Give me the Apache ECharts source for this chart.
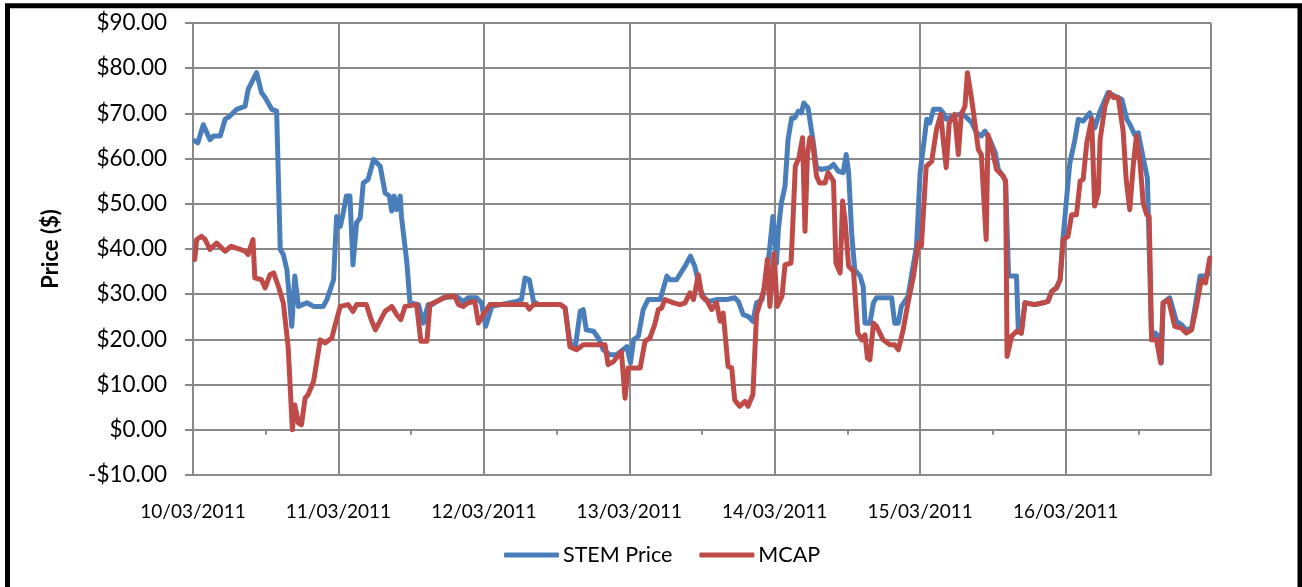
<!DOCTYPE html>
<html>
<head>
<meta charset="utf-8">
<script src="https://cdn.jsdelivr.net/npm/echarts@6/dist/echarts.min.js"></script>
<style>
html,body{margin:0;padding:0;background:#fff;}
#chart{width:1302px;height:587px;}
</style>
</head>
<body>
<div id="chart"></div>
<script>
// ---- data (hours since 10/03/2011 00:00, price in $) ----
const dateLabels = ['10/03/2011','11/03/2011','12/03/2011','13/03/2011','14/03/2011','15/03/2011','16/03/2011'];
const yTicks = [-10,0,10,20,30,40,50,60,70,80,90];

const stemHours = [0.3,0.8,1.7,2.8,3.4,4.5,5.3,6.1,7.2,8.6,9.1,10.5,11.3,11.9,13,13.8,14.4,14.9,15.5,16.3,16.8,17.4,18.8,19.9,21.5,22.1,23.2,23.7,24.3,24.8,25.3,25.9,26.4,27,27.6,28.1,28.9,29.8,30.9,31.7,32.4,32.8,33.2,33.6,34.2,34.4,35.3,35.8,37.2,38,38.8,39.5,40.2,41.3,43.5,44.6,45.4,46.8,47.6,48.3,49.3,53.4,54.2,54.8,55.5,56.2,57,60.6,61.4,62.2,63.1,63.9,64.4,64.9,66.1,66.9,67.7,68.8,69.9,71.6,72.2,72.7,73.5,74.3,75.1,77.1,78.2,78.7,79.8,81.2,82.1,82.8,83.7,84.5,85.3,86.4,88,89.4,90,90.8,91.6,92.4,93,93.9,94.7,95.2,95.7,96.1,96.3,96.6,97.1,97.7,98.2,98.8,99.3,99.9,100.4,100.8,101.5,102.3,102.9,103.7,105.1,105.7,106.5,107.3,107.8,108.2,108.7,109.2,110.1,110.6,110.9,111.7,112.3,112.8,115.3,115.8,116.4,116.9,118,119.4,120,121.1,121.6,122.2,123.3,123.8,124.3,125.7,127,128.5,129.3,130.1,130.7,131.5,132.4,132.9,133.7,134.1,134.6,135.9,136.2,136.7,137.3,138.9,140.3,141.1,141.7,142.5,143.1,143.6,144.7,145.5,146.1,146.9,148,148.8,149.7,151,152.2,153.3,154.1,154.6,155.4,156,156.8,157.5,157.8,158.2,158.8,159.3,159.8,160.1,161.2,162.3,163.1,163.9,164.8,166.2,167,167.6];
const stemPrice = [63.9,63.5,67.5,64.2,65,65,68.7,69.4,70.9,71.6,75.3,79,74.6,73.5,70.9,70.5,39.9,38.8,35.4,22.9,34,27.3,28.1,27.3,27.3,28.8,33.2,47.2,45,48,51.7,51.7,36.5,45.8,46.9,54.6,55.4,59.8,58.3,52.4,51.7,48.4,51.7,48.7,51.7,47.2,36.9,28.1,27.7,23.6,27.7,27.7,28.4,29.2,29.5,28.4,29.2,29.2,28.1,22.9,27.3,28.4,28.8,33.6,33.2,28.4,27.7,27.7,27,19.2,18.4,26.2,26.6,22.1,21.8,20.3,17.7,16.6,16.6,18.4,14.8,19.9,20.7,26.6,28.8,28.8,34,33.2,33.2,36.2,38.4,36.2,31,28.8,28.4,28.8,28.8,29.2,28.4,25.5,25.1,24,28.1,28.8,34,40.6,47.2,40.6,36.9,44.3,50.2,53.9,64.2,69,69,70.5,70.1,72.3,71.2,64.2,58,57.6,58,58.7,57.2,56.9,60.9,56.9,43.6,35.4,34,31.7,23.6,23.6,28.1,29.2,29.2,23.6,23.6,27.3,29.5,40.6,56.9,68.7,67.9,70.9,70.9,70.1,68.7,69.5,70,68,65.7,65,66.1,64.2,61.3,57.6,56.1,55,34,34,22.1,21.4,28.1,27.7,28.1,28.4,30.6,31.4,33.2,42.8,59,63.9,68.7,68.3,70.1,66.8,70.5,74.6,73.8,73.1,68.7,67.6,65.3,65.7,60.2,55.7,56.1,19.9,21.4,20.7,14.8,28.1,29.2,24,23.3,22.1,22.5,34,34,34.5];

const mcapHours = [0.3,0.6,1.4,2,2.8,3.9,5.3,6.3,7.8,8.6,9.1,9.9,10.2,11.3,11.9,12.7,13.3,14.1,14.9,15.7,16.4,16.8,17.4,17.9,18.5,19,19.9,21,21.8,22.9,23.4,24.3,25.6,26.4,27,28.6,29.4,30.1,31.7,32.8,33.6,34.3,35,36.9,37.6,38.6,39.1,40.2,41.9,43.2,43.8,44.6,45.4,46.5,47.1,47.9,49,55,55.5,56.2,60.6,61.4,62.2,63.3,64.4,68,68.5,69.4,70.7,71.3,71.8,73.8,74.6,75.4,76.2,76.8,77.3,77.9,79.3,80.4,81.2,82,82.6,83.4,84,84.7,85.6,86.4,87,87.5,88.3,88.9,89.4,90.2,91.1,91.6,92.4,93,93.6,94.2,94.8,95.2,95.9,96.4,97.2,97.7,98.7,99.4,100,100.6,101,101.4,101.8,102.2,102.9,103.4,104.3,104.8,105.1,105.7,106.1,106.8,107.2,107.6,108.2,109,109.7,110.4,110.9,111.3,111.7,112.3,112.8,113.9,115,115.8,116.4,117.2,118,118.9,119.7,120.2,121,121.9,122.7,123.4,123.8,124.3,124.8,125.7,126.3,126.8,127.4,127.8,128.5,129.1,129.6,130.1,130.9,131.2,131.9,132.6,133.7,134.1,134.35,135.1,135.9,136.7,137.3,138.9,140.3,141.1,141.7,142.5,143.1,143.6,144.4,145,145.8,146.4,146.9,147.5,148.3,148.8,149.4,149.7,150.5,151.3,151.9,152.7,153.5,154,154.6,155.2,155.7,156.3,156.8,157.4,157.8,158.2,159,159.7,160.1,161,162,163.1,163.9,164.8,165.6,166.4,167.1,167.8];
const mcapPrice = [37.7,42.1,42.8,42.1,39.9,41.3,39.5,40.6,39.9,39.5,38.8,42.1,33.6,33.2,31.4,34.3,34.7,31.7,28.1,18.4,0,5.5,1.5,1.1,7,7.8,10.7,19.9,19.2,20.3,22.9,27.3,27.7,26.2,27.7,27.7,24.4,22.1,26.2,27.3,25.5,24.4,27.3,27.7,19.6,19.6,27.7,28.4,29.5,29.5,27.7,27.3,28.1,28.4,23.6,25.5,27.7,27.7,26.7,27.7,27.7,27,18.4,17.7,18.8,18.8,14.4,15.1,17.3,7,13.7,13.7,19.6,20.3,23.3,26.6,26.9,28.8,28.1,27.7,28.1,30.3,28.8,34.3,29.5,28.8,26.6,28.1,24,25.8,14,13.7,6.6,5.2,6.3,5.2,7.8,25.5,28.1,31,37.7,27.3,39,27.3,29.5,36.5,36.9,58.3,60.2,64.6,43.9,60.9,64.6,64.2,56.1,54.6,54.6,56.9,56.5,55,36.9,34.7,50.6,46.5,36.2,35.1,21.4,19.9,21,15.9,15.5,23.6,22.9,19.9,18.8,18.8,17.7,22.1,28.1,34,41.3,40.6,58.3,59.4,66.4,69.8,64.2,58,67.9,69.8,60.9,69.8,71.6,79,73.1,67.2,62,60.9,42.1,65.3,62,57.6,56.1,55,16.2,20.7,21.8,21.4,28.1,27.7,28.1,28.4,30.6,31.4,33.2,42.1,42.8,47.6,47.6,55,55.4,63.5,68.7,49.5,52.4,64.2,71.6,74.6,73.5,73.5,66.1,55.4,48.7,59,65,59,50.2,47.6,47.2,19.9,19.9,14.8,28.1,28.8,22.9,22.5,21.4,22.1,27.3,33.2,32.5,38];

const seriesNames = ['STEM Price','MCAP'];

// ---- chart ----
const FONT = 'Lato, "Open Sans", sans-serif';
const GRID_GRAY = '#898989';
const pairs = (xs, ys) => xs.map((x, i) => [x, ys[i]]);

const chart = echarts.init(document.getElementById('chart'), null, {renderer: 'canvas'});
chart.setOption({
  animation: false,
  backgroundColor: '#ffffff',
  textStyle: {fontFamily: FONT},
  graphic: [{
    type: 'rect', z: -10, silent: true,
    shape: {x: 7.5, y: 5.8, width: 1292.5, height: 700},
    style: {fill: 'none', stroke: '#000', lineWidth: 5}
  }],
  grid: {left: 193, right: 91, top: 23, bottom: 112, containLabel: false},
  legend: {
    data: seriesNames,
    left: 499, top: 539,
    itemWidth: 55, itemHeight: 5, itemGap: 27,
    icon: 'roundRect',
    textStyle: {fontFamily: FONT, fontSize: 21.5, color: '#000', padding: [0,0,0,-1]}
  },
  xAxis: [{
    type: 'value', min: 0, max: 168, interval: 24, position: 'bottom',
    axisLine: {show: true, onZero: false, lineStyle: {color: GRID_GRAY, width: 2}},
    axisTick: {show: false},
    splitLine: {show: true, lineStyle: {color: GRID_GRAY, width: 2}},
    axisLabel: {
      show: true, margin: 27, fontFamily: FONT, fontSize: 19, color: '#000',
      showMinLabel: true, showMaxLabel: true,
      formatter: v => (v % 24 === 0 && v / 24 < dateLabels.length) ? dateLabels[v / 24] : ''
    }
  }, {
    type: 'value', min: 0, max: 168, interval: 12, position: 'bottom',
    axisLine: {show: false, onZero: true},
    axisTick: {show: true, length: 5, lineStyle: {color: GRID_GRAY, width: 2}},
    splitLine: {show: false},
    axisLabel: {show: false}
  }],
  yAxis: {
    type: 'value', min: yTicks[0], max: yTicks[yTicks.length - 1], interval: 10,
    name: 'Price ($)', nameLocation: 'middle', nameGap: 131,
    nameTextStyle: {fontFamily: FONT, fontSize: 22, fontWeight: 'bold', color: '#000'},
    axisLine: {show: true, lineStyle: {color: GRID_GRAY, width: 2}},
    axisTick: {show: true, length: 8, lineStyle: {color: GRID_GRAY, width: 2}},
    splitLine: {show: true, lineStyle: {color: GRID_GRAY, width: 2}},
    axisLabel: {
      margin: 26, fontFamily: FONT, fontSize: 22.5, color: '#000',
      formatter: v => (v < 0 ? '-$' : '$') + Math.abs(v).toFixed(2)
    }
  },
  series: [{
    name: seriesNames[0], type: 'line', xAxisIndex: 0, showSymbol: false, symbol: 'none',
    data: pairs(stemHours, stemPrice),
    itemStyle: {color: '#4A7EBB'},
    lineStyle: {color: '#4A7EBB', width: 5, join: 'round', cap: 'round'}
  }, {
    name: seriesNames[1], type: 'line', xAxisIndex: 0, showSymbol: false, symbol: 'none',
    data: pairs(mcapHours, mcapPrice),
    itemStyle: {color: '#BE4B48'},
    lineStyle: {color: '#BE4B48', width: 5, join: 'round', cap: 'round'}
  }]
});
</script>
</body>
</html>
